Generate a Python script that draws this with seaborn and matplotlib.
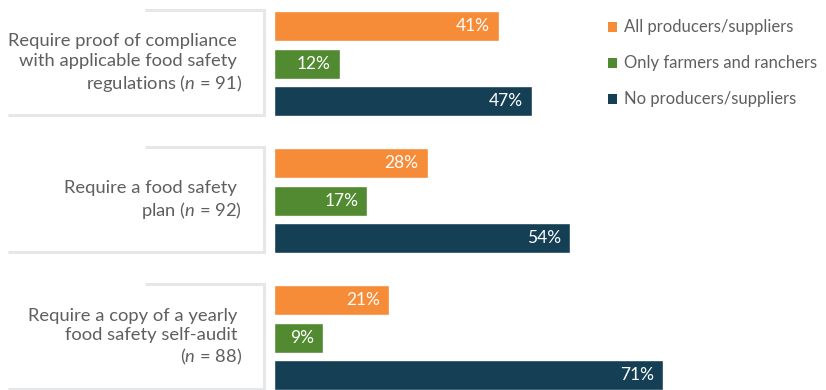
import matplotlib
matplotlib.use("Agg")
import matplotlib.pyplot as plt
import matplotlib.transforms as mtransforms
from matplotlib.lines import Line2D
from matplotlib.patches import Rectangle
import pandas as pd
import seaborn as sns

# Food safety requirements and share of producers/suppliers they apply to
practices = [
    "Require proof of compliance \nwith applicable food safety \nregulations ($\\mathit{n}$ = 91)",
    "Require a food safety \nplan ($\\mathit{n}$ = 92)",
    "Require a copy of a yearly \nfood safety self-audit \n($\\mathit{n}$ = 88)",
]
series = ["All producers/suppliers", "Only farmers and ranchers", "No producers/suppliers"]
all_producers = [41, 28, 21]
only_farmers = [12, 17, 9]
no_producers = [47, 54, 71]
colors = ["#F68B38", "#528A31", "#153F54"]

rows = []
for name, vals in zip(series, [all_producers, only_farmers, no_producers]):
    for p, v in zip(practices, vals):
        rows.append({"practice": p, "group": name, "pct": v})
df = pd.DataFrame(rows)

sns.set_theme(style="white")
plt.rcParams["font.family"] = ["Lato", "DejaVu Sans"]
plt.rcParams["mathtext.fontset"] = "custom"
plt.rcParams["mathtext.it"] = "Lato:italic"
plt.rcParams["mathtext.rm"] = "Lato"

W, H = 826, 390
fig = plt.figure(figsize=(W / 100, H / 100), dpi=100)
ax = fig.add_axes([274 / W, 0, 548.5 / W, 1])

sns.barplot(data=df, y="practice", x="pct", hue="group", orient="h",
            order=practices, hue_order=series, palette=colors,
            width=0.821, gap=0.2, saturation=1, legend=False, ax=ax)

ax.set_xlim(0, 100)
ax.set_ylim(2.383, -0.4635)
ax.axis("off")

# value labels inside the bar ends
for container, vals in zip(ax.containers, [all_producers, only_farmers, no_producers]):
    for bar, v in zip(container, vals):
        y = bar.get_y() + bar.get_height() / 2
        ax.annotate(f"{v}%", xy=(v, y), xytext=(-6.5, 0), textcoords="offset points",
                    ha="right", va="center", color="white", fontsize=12.5)

# bracket boxes framing the category labels
blend = mtransforms.blended_transform_factory(fig.transFigure, ax.transData)
box_color = "#E6E7E8"
for i, label in enumerate(practices):
    top = i - 0.390
    bot = i + 0.376
    xr = 263.5 / W
    fig.add_artist(Line2D([145 / W, xr], [top, top], transform=blend,
                          color=box_color, lw=2.2, solid_capstyle="butt"))
    fig.add_artist(Line2D([xr, xr], [top, bot], transform=blend,
                          color=box_color, lw=2.2, solid_capstyle="projecting"))
    fig.add_artist(Line2D([8 / W, xr], [bot, bot], transform=blend,
                          color=box_color, lw=2.2, solid_capstyle="butt"))
    fig.text(242 / W, i, label, transform=blend, ha="right", va="center",
             multialignment="right", fontsize=13.2, color="#5E5F61",
             linespacing=1.25)

# legend
legend_rows = [27, 63, 99]
for name, c, py in zip(series, colors, legend_rows):
    fig.add_artist(Rectangle(((608) / W, 1 - (py + 4.5) / H), 9 / W, 9 / H,
                             transform=fig.transFigure, color=c, lw=0))
    fig.text(624 / W, 1 - py / H, name, ha="left", va="center",
             fontsize=12, color="#5E5F61")

fig.savefig("out.png", dpi=100)
